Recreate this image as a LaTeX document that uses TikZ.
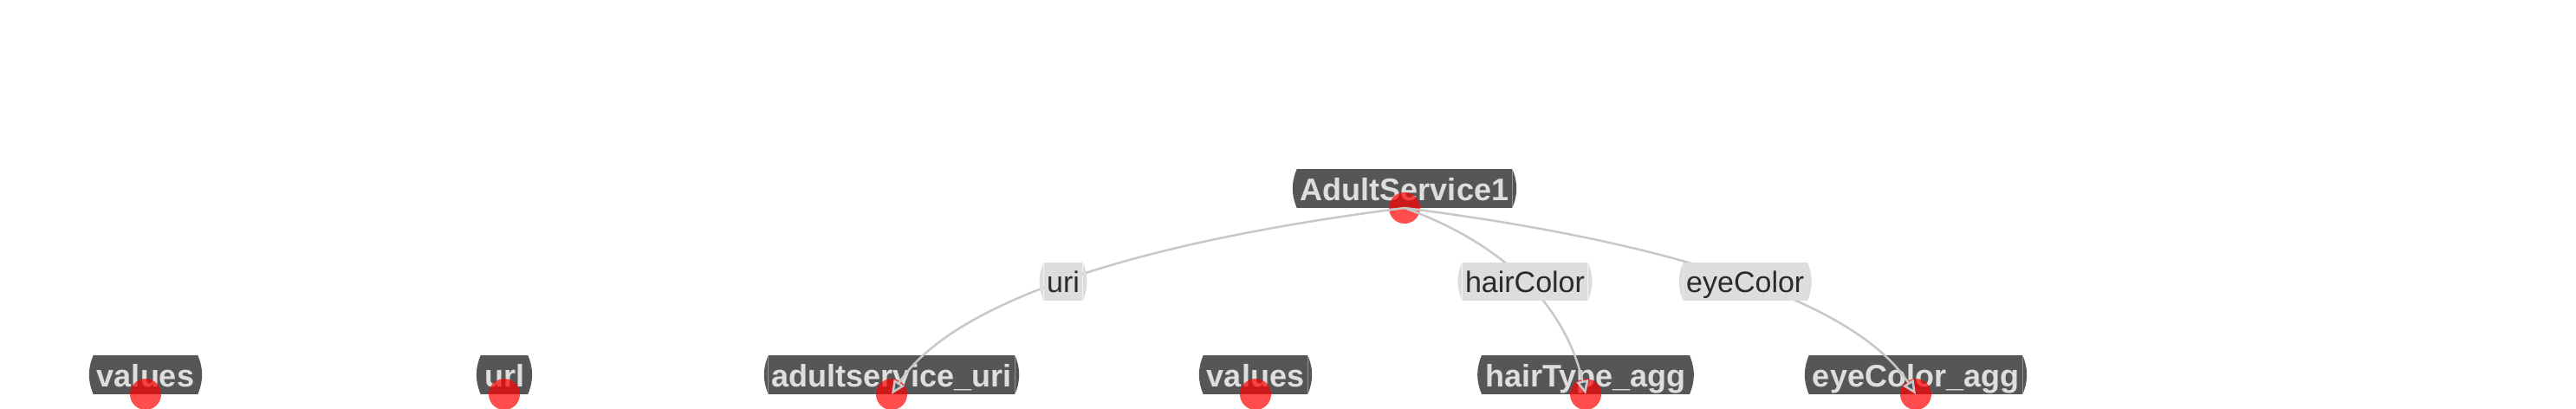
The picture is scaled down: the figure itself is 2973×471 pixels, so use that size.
\documentclass[tikz,border=0pt]{standalone}
\usepackage{fontspec}
\setmainfont{Liberation Sans}
\usetikzlibrary{arrows.meta,calc}
\definecolor{nodegray}{HTML}{565656}
\definecolor{nodetext}{HTML}{DEDEDE}
\definecolor{labelfill}{HTML}{DDDDDD}
\definecolor{labeltext}{HTML}{2A2A2A}
\definecolor{edgegray}{HTML}{C8C8C8}
\definecolor{dotred}{HTML}{FF0000}
\begin{document}
\begin{tikzpicture}[x=1pt,y=-1pt,
  bulged/.style={append after command={\pgfextra{\let\bnode\tikzlastnode
      \fill[#1] (\bnode.north east) to[bend left=22] (\bnode.south east) -- cycle
                (\bnode.south west) to[bend left=22] (\bnode.north west) -- cycle;}}},
  entity/.style={rectangle, fill=nodegray, bulged=nodegray, text=nodetext,
    font=\fontsize{36}{40}\selectfont\bfseries, minimum height=45pt, inner xsep=4pt, inner ysep=0pt,
    text height=27pt, text depth=0pt},
  elabel/.style={rectangle, fill=labelfill, bulged=labelfill, text=labeltext,
    font=\fontsize{34}{40}\selectfont, minimum height=44pt, inner xsep=3.5pt, inner ysep=0pt,
    text height=24pt, text depth=0pt},
  dot/.style={circle, fill=dotred, fill opacity=0.7, inner sep=0pt, minimum size=36pt},
  link/.style={draw=edgegray, line width=2.5pt, -{Triangle[length=16pt,width=14pt,fill=nodegray]}},
]
\useasboundingbox (0,0) rectangle (2973,471);
% entity boxes
\node[entity] (as)  at (1621,217.5) {AdultService1};
\node[entity] (v1)  at (168,432.5)  {values};
\node[entity] (url) at (582,432.5)  {url};
\node[entity] (asu) at (1029,432.5) {adultservice\_uri};
\node[entity] (v2)  at (1449,432.5) {values};
\node[entity] (hta) at (1830,432.5) {hairType\_agg};
\node[entity] (eca) at (2211,432.5) {eyeColor\_agg};
% red dots
\node[dot] (asd)  at (1621,240) {};
\node[dot] (v1d)  at (168,455) {};
\node[dot] (urld) at (582,455) {};
\node[dot] (asud) at (1029,455) {};
\node[dot] (v2d)  at (1449,455) {};
\node[dot] (htad) at (1830,455) {};
\node[dot] (ecad) at (2211,455) {};
% curve control points
\coordinate (c1) at (1129,302.5);
\coordinate (c2) at (1794.5,302.5);
\coordinate (c3) at (2112.5,302.5);
% edges
\draw[link] (asd.center) .. controls ($(asd.center)!2/3!(c1)$) and ($(asud.center)!2/3!(c1)$) .. (asud.center)
  coordinate[pos=0.5] (m1);
\draw[link] (asd.center) .. controls ($(asd.center)!2/3!(c2)$) and ($(htad.center)!2/3!(c2)$) .. (htad.center)
  coordinate[pos=0.5] (m2);
\draw[link] (asd.center) .. controls ($(asd.center)!2/3!(c3)$) and ($(ecad.center)!2/3!(c3)$) .. (ecad.center)
  coordinate[pos=0.5] (m3);
% edge labels
\node[elabel] (l1) at (m1) {uri};
\node[elabel] (l2) at (m2) {hairColor};
\node[elabel] (l3) at (m3) {eyeColor};
\end{tikzpicture}
\end{document}
